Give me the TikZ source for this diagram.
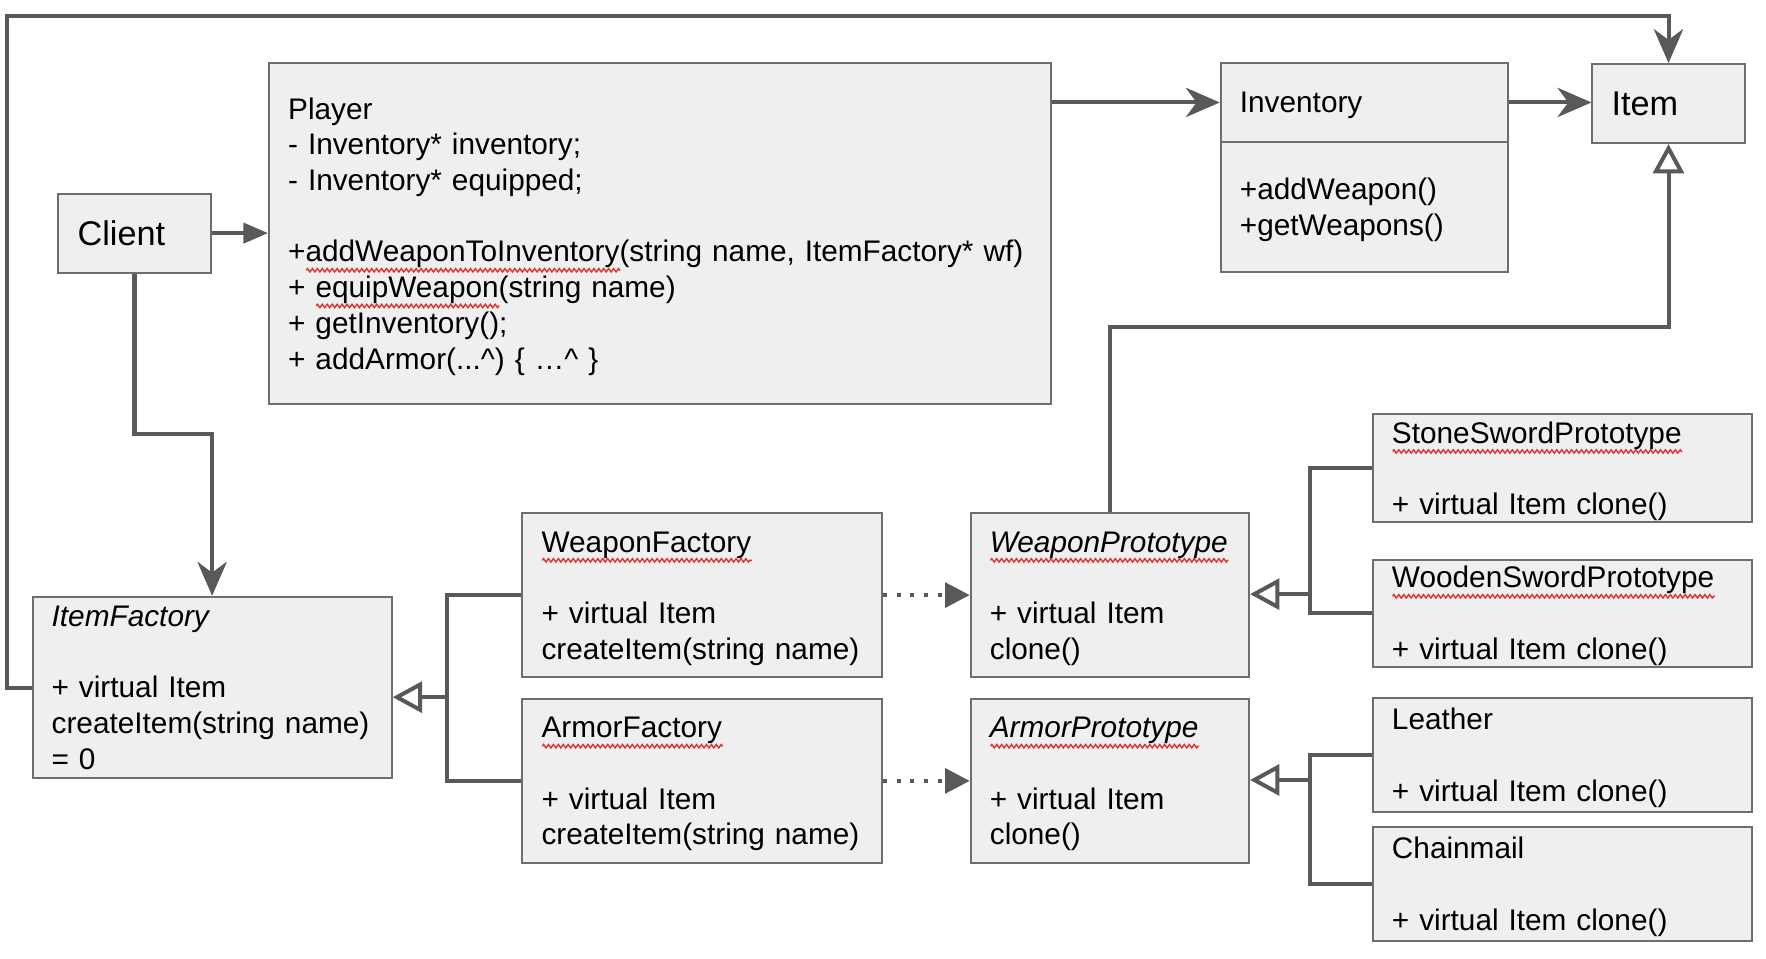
\documentclass[tikz,border=0pt]{standalone}
\usepackage{fontspec}
\setmainfont{Liberation Sans}
\usetikzlibrary{arrows.meta,decorations.pathmorphing}
\definecolor{boxfill}{HTML}{EFEFEF}
\definecolor{boxline}{HTML}{6E6E6E}
\definecolor{linkgray}{HTML}{595959}
\definecolor{spell}{HTML}{E0312B}
\newlength\wavelen
\newcommand\spellwave[1]{\settowidth\wavelen{#1}\rlap{\tikz[baseline=0pt]\draw[spell,line width=0.45pt,decorate,
    decoration={zigzag,segment length=1.6pt,amplitude=0.55pt}] (0pt,-2.7pt) -- (\wavelen,-2.7pt);}#1}
\tikzset{
  umlbase/.style={draw=boxline,fill=boxfill,line width=0.65pt,anchor=north west,
    inner xsep=6.2pt,inner ysep=0pt,align=left,font=\fontsize{9.65}{11.57}\selectfont},
  umlbox/.style={umlbase,execute at begin node={\rule{0pt}{8.8pt}}},
  bigbox/.style={umlbase,font=\fontsize{11.1}{13.3}\selectfont},
  link/.style={draw=linkgray,line width=1.3pt},
  assoc/.style={link,-{Stealth[length=11pt,width=9.5pt,inset=3.5pt]}},
  usearrow/.style={link,-{Triangle[length=8pt,width=6.5pt]}},
  gen/.style={link,-{Triangle[open,length=9.5pt,width=10pt]}},
  depend/.style={link,dash pattern=on 1.3pt off 3.2pt,-{Triangle[length=8pt,width=8pt]}}
}

\begin{document}
\begin{tikzpicture}[x=0.365pt,y=-0.365pt]
  \fill[white] (0,0) rectangle (1568,851);
  \useasboundingbox (0,0) rectangle (1568,851);

  % classes
  \node[bigbox,minimum width=49.3pt,minimum height=25.6pt,text width=36.9pt] (client) at (51,171) {Client};
  \node[umlbox,minimum width=253.3pt,minimum height=110.6pt,text width=240.9pt] (player) at (238,55) {Player\\
    - Inventory* inventory;\\
    - Inventory* equipped;\\[\baselineskip]
    +\spellwave{addWeaponToInventory}(string name, ItemFactory* wf)\\
    + \spellwave{equipWeapon}(string name)\\
    + getInventory();\\
    + addArmor(...\textasciicircum) \{ …\textasciicircum\ \}};
  \node[umlbox,minimum width=93.1pt,minimum height=25.6pt,text width=80.7pt] (invhead) at (1083,55) {Inventory};
  \node[umlbox,minimum width=93.1pt,minimum height=42.3pt,text width=80.7pt] (invbody) at (1083,125) {+addWeapon()\\+getWeapons()};
  \node[bigbox,minimum width=49.3pt,minimum height=25.6pt,text width=36.9pt] (item) at (1413,56) {Item};

  \node[umlbase,minimum width=116.4pt,minimum height=58.8pt,text width=104pt] (itemfac) at (28,529) {\textit{ItemFactory}\\[\baselineskip]
    + virtual Item\\createItem(string name)\\= 0};
  \node[umlbox,minimum width=116.4pt,minimum height=52.9pt,text width=104pt] (weaponfac) at (463,455) {\spellwave{WeaponFactory}\\[\baselineskip]
    + virtual Item\\createItem(string name)};
  \node[umlbox,minimum width=116.4pt,minimum height=52.9pt,text width=104pt] (armorfac) at (463,620) {\spellwave{ArmorFactory}\\[\baselineskip]
    + virtual Item\\createItem(string name)};
  \node[umlbox,minimum width=90.2pt,minimum height=52.9pt,text width=77.8pt] (weaponproto) at (861,455) {\spellwave{\textit{WeaponPrototype}}\\[\baselineskip]
    + virtual Item\\clone()};
  \node[umlbox,minimum width=90.2pt,minimum height=52.9pt,text width=77.8pt] (armorproto) at (861,620) {\spellwave{\textit{ArmorPrototype}}\\[\baselineskip]
    + virtual Item\\clone()};

  \node[umlbox,minimum width=123pt,minimum height=35pt,text width=110.6pt] (stone) at (1218,367) {\spellwave{StoneSwordPrototype}\\[\baselineskip]+ virtual Item clone()};
  \node[umlbox,minimum width=123pt,minimum height=34.7pt,text width=110.6pt] (wooden) at (1218,496) {\spellwave{WoodenSwordPrototype}\\[\baselineskip]+ virtual Item clone()};
  \node[umlbox,minimum width=123pt,minimum height=36.9pt,text width=110.6pt] (leather) at (1218,619) {Leather\\[\baselineskip]+ virtual Item clone()};
  \node[umlbox,minimum width=123pt,minimum height=37.2pt,text width=110.6pt] (chain) at (1218,733) {Chainmail\\[\baselineskip]+ virtual Item clone()};

  % bends and joins
  \coordinate (loop) at (6,14);
  \coordinate (clientbend) at (150,385);
  \coordinate (protobend) at (1200,290);
  \coordinate (facjoin) at (397,619);
  \coordinate (wjoin) at (1163,527.5);
  \coordinate (ajoin) at (1163,692.5);

  % connectors
  \draw[usearrow] (client) -- (client -| player.west);
  \draw[assoc] (invhead.west -| player.east) -- (invhead.west);
  \draw[assoc] (invhead.east) -- (invhead.east -| item.west);
  \draw[assoc] (itemfac.west) -| (loop) -| (item.north);
  \draw[assoc] (client.south) |- (clientbend) -| (itemfac.north);
  \draw[gen] (weaponproto.north) |- (protobend) -| (item.south);

  \draw[link] (weaponfac.west) -| (facjoin) |- (armorfac.west);
  \draw[gen] (facjoin) -- (facjoin -| itemfac.east);
  \draw[depend] (weaponfac) -- (weaponproto);
  \draw[depend] (armorfac) -- (armorproto);

  \draw[link] (stone.west) -| (wjoin) |- (wooden.west);
  \draw[gen] (wjoin) -- (wjoin -| weaponproto.east);
  \draw[link] (leather.west) -| (ajoin) |- (chain.west);
  \draw[gen] (ajoin) -- (ajoin -| armorproto.east);
\end{tikzpicture}
\end{document}
